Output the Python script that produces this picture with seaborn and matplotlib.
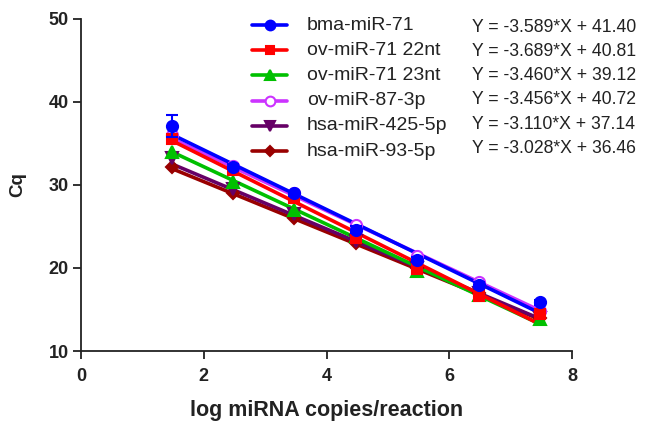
import matplotlib
matplotlib.use("Agg")
import matplotlib.pyplot as plt
import numpy as np
import pandas as pd
import seaborn as sns

# data
names = ['bma-miR-71', 'ov-miR-71 22nt', 'ov-miR-71 23nt', 'ov-miR-87-3p',
         'hsa-miR-425-5p', 'hsa-miR-93-5p']
log_copies = [1.477, 2.477, 3.477, 4.477, 5.477, 6.477, 7.477]
cq_bma71 = [37.1, 32.2, 29.0, 24.6, 21.0, 18.0, 15.9]
cq_ov71_22 = [35.6, 31.8, 28.4, 23.6, 19.9, 16.6, 14.4]
cq_ov71_23 = [34.0, 30.4, 27.0, 23.8, 19.6, 16.8, 13.8]
cq_ov87 = [36.0, 32.3, 29.0, 25.2, 21.5, 18.3, 14.8]
cq_hsa425 = [33.3, 29.5, 26.5, 23.3, 20.0, 17.0, 14.0]
cq_hsa93 = [32.2, 29.0, 26.0, 23.0, 20.0, 17.0, 14.0]
sd_bma71 = [1.3, 0.3, 0.3, 0.4, 0.3, 0.3, 0.3]
slopes = [-3.589, -3.689, -3.460, -3.456, -3.110, -3.028]
intercepts = [41.40, 40.81, 39.12, 40.72, 37.14, 36.46]
equations = ['Y = -3.589*X + 41.40', 'Y = -3.689*X + 40.81', 'Y = -3.460*X + 39.12',
             'Y = -3.456*X + 40.72', 'Y = -3.110*X + 37.14', 'Y = -3.028*X + 36.46']

cq_all = [cq_bma71, cq_ov71_22, cq_ov71_23, cq_ov87, cq_hsa425, cq_hsa93]
sd_all = [sd_bma71, None, None, None, None, None]
colors = ['#0000FF', '#FF0000', '#00C000', '#CC33FF', '#660066', '#990000']
markers = ['o', 's', '^', 'o', 'v', 'D']
filled = [True, True, True, False, True, True]
msizes = [8, 7, 8, 8, 8, 6]

sns.set_style('white')
plt.rcParams['font.family'] = ['Liberation Sans', 'DejaVu Sans']

W, H = 645, 423
fig = plt.figure(figsize=(W / 100, H / 100), dpi=100)
ax = fig.add_axes([81 / W, 1 - 351 / H, 491 / W, 332 / H])

# fitted lines
xs = np.array([log_copies[0], log_copies[-1]])
fit_df = pd.concat([pd.DataFrame({'x': xs, 'y': s * xs + b, 'name': n})
                    for n, s, b in zip(names, slopes, intercepts)])
for i in reversed(range(len(names))):
    sub = fit_df[fit_df['name'] == names[i]]
    sns.lineplot(data=sub, x='x', y='y', color=colors[i], linewidth=2.6,
                 ax=ax, legend=False, zorder=2 + (6 - i) * 0.1)

# points
for i in reversed(range(len(names))):
    ax.errorbar(log_copies, cq_all[i], yerr=sd_all[i], fmt=markers[i],
                color=colors[i], markersize=msizes[i],
                markerfacecolor=colors[i] if filled[i] else 'white',
                markeredgewidth=1.5, capsize=4, elinewidth=1.5, zorder=3 + (6 - i) * 0.1)

ax.set_xlim(0, 8)
ax.set_ylim(10, 50)
ax.set_xticks([0, 2, 4, 6, 8])
ax.set_yticks([10, 20, 30, 40, 50])
sns.despine(ax=ax)
for sp in ax.spines.values():
    sp.set_linewidth(1.3)
    sp.set_color('#222222')
ax.tick_params(direction='out', length=6, width=1.3, labelsize=13,
               bottom=True, left=True, colors='#222222')
ax.tick_params(axis='x', pad=6)
ax.tick_params(axis='y', pad=3)
for lab in ax.get_xticklabels() + ax.get_yticklabels():
    lab.set_fontweight('bold')
ax.set_xlabel('log miRNA copies/reaction', fontsize=15.5, fontweight='bold',
              labelpad=11, color='#222222')
ax.set_ylabel('Cq', fontsize=13.5, fontweight='bold', labelpad=16, color='#222222')

# legend, drawn row by row with the equation beside each entry
for k in range(len(names)):
    yl = 1 - (25 + 25.2 * k) / H
    fig.add_artist(plt.Line2D([252 / W, 287 / W], [yl, yl], color=colors[k], linewidth=2.6,
                              transform=fig.transFigure))
    fig.add_artist(plt.Line2D([269.5 / W], [yl], color=colors[k], marker=markers[k],
                              markersize=msizes[k] - 1,
                              markerfacecolor=colors[k] if filled[k] else 'white',
                              markeredgewidth=1.5, transform=fig.transFigure))
    fig.text(307 / W, yl, names[k], fontsize=14, va='center', ha='left', color='#222222')
    fig.text(472 / W, 1 - (27 + 24.3 * k) / H, equations[k], fontsize=12.7,
             va='center', ha='left', color='#222222')

fig.savefig('out.png', dpi=100)
